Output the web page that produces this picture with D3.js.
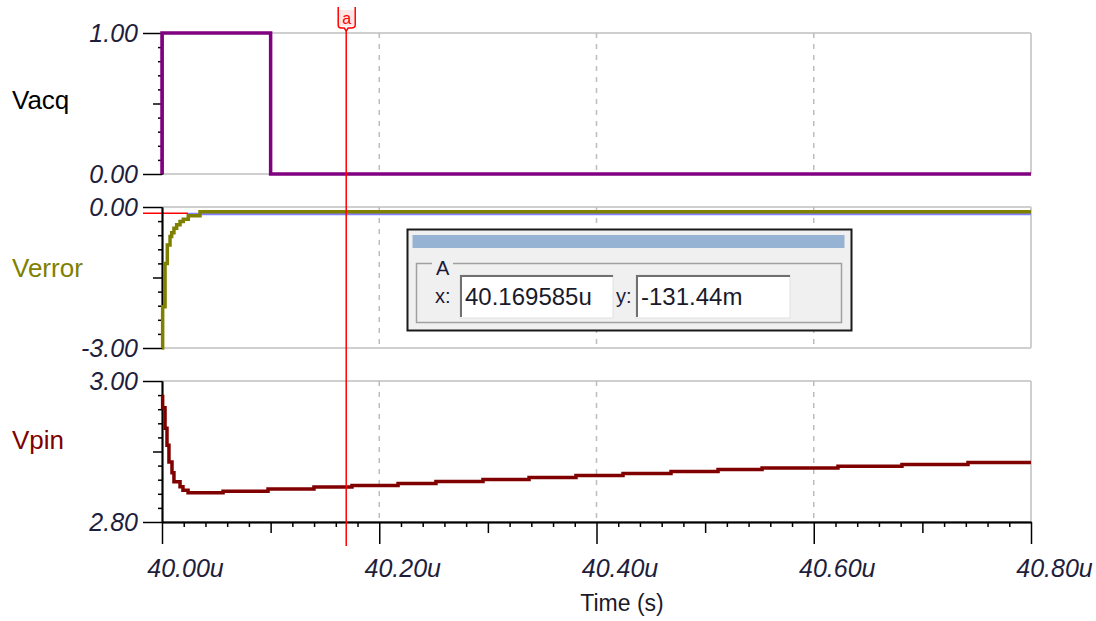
<!DOCTYPE html>
<html><head><meta charset="utf-8">
<script src="https://cdn.jsdelivr.net/npm/d3@7"></script>
<style>
html,body{margin:0;padding:0;background:#fff;}
svg{display:block;font-family:"Liberation Sans",Arial,sans-serif;}
</style></head>
<body><svg id="chart" width="1096" height="621"></svg>
<script>
// ---- data ----
const timeTicks = [40.0, 40.2, 40.4, 40.6, 40.8];
const timeTickLabels = ["40.00u", "40.20u", "40.40u", "40.60u", "40.80u"];
const panelNames = ["Vacq", "Verror", "Vpin"];
const panelColors = ["#000000", "#808000", "#800000"];
const panelDomains = [[0, 1], [-3, 0], [2.8, 3.0]];
const panelTickLabels = [["0.00", "1.00"], ["-3.00", "0.00"], ["2.80", "3.00"]];

const vacqTime  = [40.0, 40.0, 40.1, 40.1, 40.8];
const vacqValue = [0, 1, 1, 0, 0];

const verrTime  = [40.0, 40.0006, 40.0028, 40.0049, 40.0074, 40.0089, 40.011, 40.0135, 40.0166, 40.0196, 40.0242, 40.035, 40.8];
const verrValue = [-3.0, -2.12, -1.20, -0.81, -0.63, -0.55, -0.45, -0.38, -0.31, -0.26, -0.185, -0.10, -0.10];
const verrRefTime  = [40.024, 40.8];
const verrRefValue = [-0.15, -0.15];

const vpinTime  = [40.0, 40.0006, 40.0028, 40.0046, 40.0064, 40.0092, 40.011, 40.0166, 40.0193, 40.024,
                   40.0562, 40.0976, 40.1399, 40.1749, 40.2173, 40.2522, 40.2955, 40.3379, 40.3811,
                   40.4244, 40.4686, 40.5119, 40.5524, 40.6223, 40.6812, 40.742, 40.8];
const vpinValue = [2.978, 2.962, 2.933, 2.909, 2.885, 2.870, 2.857, 2.850, 2.845, 2.8416,
                   2.8437, 2.8468, 2.8496, 2.8518, 2.8546, 2.8574, 2.8603, 2.8631, 2.8660,
                   2.8688, 2.8716, 2.8745, 2.8766, 2.8790, 2.8816, 2.8844, 2.8844];

const cursorTime = 40.169585;
const cursorValue = -0.13144;
const cursorXText = "40.169585u";
const cursorYText = "-131.44m";

// ---- layout ----
const svg = d3.select("#chart");
const x = d3.scaleLinear().domain([40.0, 40.8]).range([162, 1031]);
const panelTops = [33, 207, 381];
const panelH = 141;
const ys = panelDomains.map((d, i) => d3.scaleLinear().domain(d).range([panelTops[i] + panelH, panelTops[i]]));
const tickColor = "#1e1e3c";

// panels: grid
ys.forEach((y, i) => {
  const g = svg.append("g");
  const [y0, y1] = y.range();
  [y0, y1].forEach(yy => g.append("line").attr("x1", 162).attr("x2", 1031).attr("y1", yy).attr("y2", yy)
    .attr("stroke", "#cfcfcf").attr("stroke-width", 2));
  g.append("line").attr("x1", 1031).attr("x2", 1031).attr("y1", y1).attr("y2", y0)
    .attr("stroke", "#cfcfcf").attr("stroke-width", 2);
  timeTicks.slice(1, -1).forEach(t => g.append("line").attr("x1", x(t)).attr("x2", x(t))
    .attr("y1", y1).attr("y2", y0).attr("stroke", "#bdbdbd").attr("stroke-width", 1.5)
    .attr("stroke-dasharray", "5,6"));
});

// cursor y marker in Verror panel
svg.append("line").attr("x1", 143).attr("x2", 188).attr("y1", ys[1](cursorValue)).attr("y2", ys[1](cursorValue))
  .attr("stroke", "#ff0000").attr("stroke-width", 1.5);

// y axes
ys.forEach((y, i) => {
  const d = panelDomains[i];
  const step = (d[1] - d[0]) / 10;
  const minors = d3.range(1, 10).filter(k => k !== 5).map(k => d[0] + k * step);
  const mid = (d[0] + d[1]) / 2;
  const gMin = svg.append("g").attr("transform", "translate(162,0)")
    .call(d3.axisLeft(y).tickValues(minors).tickSize(4).tickSizeOuter(0).tickFormat(""));
  const gMid = svg.append("g").attr("transform", "translate(162,0)")
    .call(d3.axisLeft(y).tickValues([mid]).tickSize(9).tickSizeOuter(0).tickFormat(""));
  const gMaj = svg.append("g").attr("transform", "translate(162,0)")
    .call(d3.axisLeft(y).tickValues(d).tickSize(19).tickSizeOuter(0).tickPadding(5)
      .tickFormat((v, j) => panelTickLabels[i][j]));
  [gMin, gMid, gMaj].forEach(g => {
    g.selectAll("line").attr("stroke", "#000").attr("stroke-width", 1.5);
    g.select(".domain").attr("stroke", "#000").attr("stroke-width", 1.5);
  });
  gMaj.selectAll("text").attr("font-size", 25).attr("font-style", "italic")
    .attr("fill", tickColor).attr("font-family", "Liberation Sans, Arial, sans-serif");
  svg.append("text").attr("x", 12).attr("y", [100, 268, 440][i]).attr("dy", "0.35em")
    .attr("font-size", 26).attr("fill", panelColors[i]).text(panelNames[i]);
});

// x axis
const xMinors = d3.range(0, 41).map(k => 40 + k * 0.02).filter((t, k) => k % 5 !== 0);
const xMids = d3.range(0, 4).map(k => 40.1 + k * 0.2);
const xBase = panelTops[2] + panelH;
const gxMin = svg.append("g").attr("transform", `translate(0,${xBase})`)
  .call(d3.axisBottom(x).tickValues(xMinors).tickSize(5).tickSizeOuter(0).tickFormat(""));
const gxMid = svg.append("g").attr("transform", `translate(0,${xBase})`)
  .call(d3.axisBottom(x).tickValues(xMids).tickSize(11).tickSizeOuter(0).tickFormat(""));
const gxMaj = svg.append("g").attr("transform", `translate(0,${xBase})`)
  .call(d3.axisBottom(x).tickValues(timeTicks).tickSize(22).tickSizeOuter(0).tickPadding(15)
    .tickFormat((v, j) => timeTickLabels[j]));
[gxMin, gxMid, gxMaj].forEach(g => {
  g.selectAll("line").attr("stroke", "#000").attr("stroke-width", 1.5);
  g.select(".domain").attr("stroke", "#000").attr("stroke-width", 1.5);
});
gxMaj.selectAll("text").attr("font-size", 25).attr("font-style", "italic").attr("fill", tickColor)
  .attr("font-family", "Liberation Sans, Arial, sans-serif").attr("dx", 23);
svg.append("text").attr("x", 622).attr("y", 603).attr("dy", "0.35em").attr("text-anchor", "middle")
  .attr("font-size", 23).attr("fill", "#1a1a2a").text("Time (s)");

// traces
function trace(times, values, y, color, width) {
  const data = times.map((t, k) => [t, values[k]]);
  svg.append("path").datum(data)
    .attr("d", d3.line().x(d => x(d[0])).y(d => y(d[1])).curve(d3.curveStepAfter))
    .attr("fill", "none").attr("stroke", color).attr("stroke-width", width);
}
trace(vacqTime, vacqValue, ys[0], "#800080", 3.5);
trace(verrRefTime, verrRefValue, ys[1], "#8080ff", 2.5);
trace(verrTime, verrValue, ys[1], "#808000", 3.5);
trace(vpinTime, vpinValue, ys[2], "#800000", 3.5);

// cursor line
const cx = x(cursorTime);
svg.append("line").attr("x1", cx).attr("x2", cx).attr("y1", 30).attr("y2", 546)
  .attr("stroke", "#ff0000").attr("stroke-width", 1.5);
svg.append("rect").attr("x", cx - 7).attr("y", 10).attr("width", 15).attr("height", 16).attr("fill", "#ffe6e6");
svg.append("path")
  .attr("d", `M${cx-8},7 V25 Q${cx-8},28 ${cx-5},28 L${cx-2},28 L${cx},31 L${cx+2},28 L${cx+5},28 Q${cx+9},28 ${cx+9},25 V7`)
  .attr("fill", "none").attr("stroke", "#ff0000").attr("stroke-width", 1.5);
svg.append("text").attr("x", cx + 0.5).attr("y", 24).attr("text-anchor", "middle")
  .attr("font-size", 16).attr("fill", "#ff0000").text("a");

// cursor readout box
const box = svg.append("g");
box.append("rect").attr("x", 407.5).attr("y", 229.5).attr("width", 444).attr("height", 101)
  .attr("fill", "#f0f0f0").attr("stroke", "#1a1a1a").attr("stroke-width", 2);
box.append("rect").attr("x", 412.5).attr("y", 235).attr("width", 432).attr("height", 13).attr("fill", "#97b3d3");
box.append("path").attr("d", "M432,263.5 H416.5 V322.5 H841.5 V263.5 H453")
  .attr("fill", "none").attr("stroke", "#a0a0a0").attr("stroke-width", 1.5);
box.append("text").attr("x", 436).attr("y", 268).attr("dy", "0.35em").attr("font-size", 20).attr("fill", "#1a1a3a").text("A");
box.append("text").attr("x", 435).attr("y", 296).attr("dy", "0.35em").attr("font-size", 20).attr("fill", "#1a1a3a").text("x:");
box.append("text").attr("x", 616).attr("y", 296).attr("dy", "0.35em").attr("font-size", 20).attr("fill", "#1a1a3a").text("y:");
[[460, 613, cursorXText], [636, 790, cursorYText]].forEach(([a, b, t]) => {
  box.append("rect").attr("x", a).attr("y", 275).attr("width", b - a).attr("height", 43).attr("fill", "#fff")
    .attr("stroke", "#e0e0e0").attr("stroke-width", 1);
  box.append("path").attr("d", `M${a+1},317 V276 H${b}`).attr("fill", "none").attr("stroke", "#707070").attr("stroke-width", 2);
  box.append("text").attr("x", a + 5).attr("y", 297).attr("dy", "0.35em").attr("font-size", 24).attr("fill", "#1a1a2a").text(t);
});
</script></body></html>
